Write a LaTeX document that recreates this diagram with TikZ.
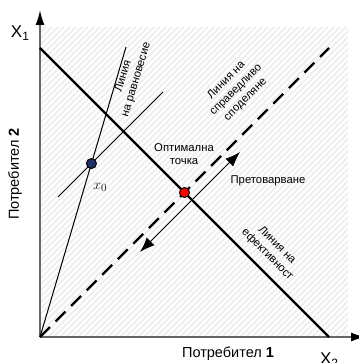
\documentclass[tikz,border=0pt]{standalone}
\usepackage{fontspec}
\setmainfont{Liberation Sans}
\usetikzlibrary{arrows.meta}
\begin{document}
\begin{tikzpicture}[x=1pt,y=-1pt,
  axisline/.style={draw=black!60, line width=1.8pt, -{Latex[length=15pt,width=9pt,color=black]}},
  effline/.style={line width=2.2pt},
  fairline/.style={line width=2.2pt, dash pattern=on 14pt off 8pt},
  thinline/.style={line width=1pt},
  dblarrow/.style={line width=1pt, {Latex[length=15pt,width=11pt]}-{Latex[length=15pt,width=11pt]}},
  lbl/.style={font=\fontsize{11.3}{13.5}\selectfont, align=center, inner sep=0pt},
  axlbl/.style={font=\fontsize{14.5}{16}\selectfont, inner sep=0pt},
  xlbl/.style={font=\fontsize{17}{17}\selectfont, inner sep=0pt},
  dot/.style={circle, draw=black, line width=1pt, minimum size=10pt, inner sep=0pt},
  hatch/.style={gray!13, line width=1.8pt}
]
\useasboundingbox (0,0) rectangle (358,363);
% hatched background
\begin{scope}
  \clip (40,27) rectangle (348,337);
  \foreach \i in {-276,-270,...,350} \draw[hatch] (\i,337) -- ++(310,-310);
\end{scope}
% coordinates
\coordinate (O) at (40,337);
\coordinate (Ytop) at (40,10);
\coordinate (Xend) at (366,337);
\coordinate (E1) at (40,48);
\coordinate (E2) at (329,337);
\coordinate (F2) at (329,48);
\coordinate (Q1) at (126,47);
\coordinate (T1) at (58,197);
\coordinate (T2) at (163,92);
\coordinate (A1) at (140,252);
\coordinate (A2) at (240,152);
\coordinate (X0) at (intersection of O--Q1 and T1--T2);
\coordinate (OPT) at (intersection of E1--E2 and O--F2);
% axes
\draw[axisline] (O) -- (Ytop);
\draw[axisline] (O) -- (Xend);
% lines
\draw[effline] (E1) -- (E2);
\draw[fairline] (O) -- (F2);
\draw[thinline] (O) -- (Q1);
\draw[thinline] (T1) -- (T2);
\draw[dblarrow] (A1) -- (A2);
% points
\node[dot, fill={rgb,255:red,28;green,48;blue,105}] (x0dot) at (X0) {};
\node[dot, fill=red] (optdot) at (OPT) {};
% labels
\node[xlbl] (x1lbl) at (20,33) {X\raisebox{-0.3ex}{\fontsize{12}{12}\selectfont 1}};
\node[xlbl] (x2lbl) at (329,360) {X\raisebox{-0.3ex}{\fontsize{12}{12}\selectfont 2}};
\node[axlbl, rotate=90] (c2lbl) at (15,174) {Потребител \textbf{2}};
\node[axlbl] (c1lbl) at (228,354) {Потребител \textbf{1}};
\node[inner sep=0pt, text=black!90] (x0lbl) at (100,187) {\fontsize{15}{15}\selectfont$x_0$};
\node[lbl, rotate=73] (eqlbl) at (130,78) {Линия\\на равновесие};
\node[lbl, rotate=45] (fairlbl) at (236,90) {Линия на\\справедливо\\споделяне};
\node[lbl, rotate=-45] (efflbl) at (272,250) {Линия на\\ефективност};
\node[lbl] (optlbl) at (184,154) {Оптимална\\точка};
\node[lbl] (overlbl) at (268,181) {Претоварване};
\end{tikzpicture}
\end{document}
